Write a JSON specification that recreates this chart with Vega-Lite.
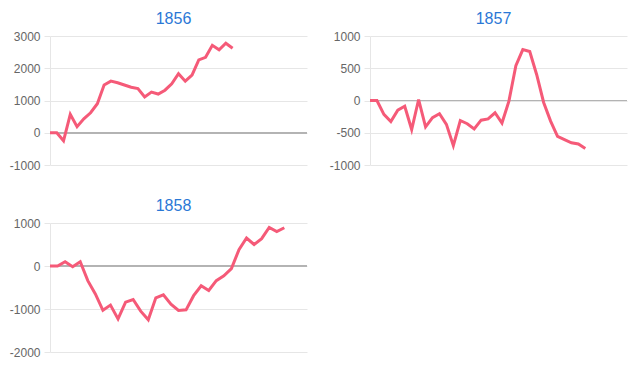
{
  "$schema": "https://vega.github.io/schema/vega-lite/v6.json",
  "padding": {"left": 8, "top": 11, "right": 5, "bottom": 5},
  "background": "#ffffff",
  "config": {
    "view": {"stroke": null},
    "font": "Liberation Sans",
    "title": {"fontSize": 16, "fontWeight": "normal", "color": "#2a78d6", "font": "Liberation Sans", "baseline": "alphabetic", "offset": 3, "anchor": "middle", "dx": -5},
    "axisY": {"labelColor": "#666666", "labelFontSize": 12, "labelFont": "Liberation Sans", "grid": true, "gridColor": "#e6e6e6", "tickColor": "#e6e6e6", "tickSize": 6, "labelPadding": 4, "domainColor": "#e6e6e6", "title": null, "minExtent": 42, "maxExtent": 42, "labelOverlap": false, "labelExpr": "'' + datum.value"},
    "line": {"color": "#f55a78", "strokeWidth": 3}
  },
  "datasets": {
    "d1856": [
      {"i": 0, "v": 0}, {"i": 1, "v": 0}, {"i": 2, "v": -250}, {"i": 3, "v": 570}, {"i": 4, "v": 190}, {"i": 5, "v": 430}, {"i": 6, "v": 620}, {"i": 7, "v": 900}, {"i": 8, "v": 1480}, {"i": 9, "v": 1600}, {"i": 10, "v": 1550}, {"i": 11, "v": 1480}, {"i": 12, "v": 1410}, {"i": 13, "v": 1370}, {"i": 14, "v": 1110}, {"i": 15, "v": 1260}, {"i": 16, "v": 1200}, {"i": 17, "v": 1320}, {"i": 18, "v": 1520}, {"i": 19, "v": 1830}, {"i": 20, "v": 1600}, {"i": 21, "v": 1790}, {"i": 22, "v": 2260}, {"i": 23, "v": 2340}, {"i": 24, "v": 2710}, {"i": 25, "v": 2570}, {"i": 26, "v": 2775}, {"i": 27, "v": 2620}
    ],
    "d1857": [
      {"i": 0, "v": 0}, {"i": 1, "v": 0}, {"i": 2, "v": -215}, {"i": 3, "v": -325}, {"i": 4, "v": -150}, {"i": 5, "v": -90}, {"i": 6, "v": -450}, {"i": 7, "v": 15}, {"i": 8, "v": -410}, {"i": 9, "v": -265}, {"i": 10, "v": -205}, {"i": 11, "v": -370}, {"i": 12, "v": -700}, {"i": 13, "v": -310}, {"i": 14, "v": -360}, {"i": 15, "v": -440}, {"i": 16, "v": -305}, {"i": 17, "v": -285}, {"i": 18, "v": -190}, {"i": 19, "v": -350}, {"i": 20, "v": -10}, {"i": 21, "v": 540}, {"i": 22, "v": 790}, {"i": 23, "v": 760}, {"i": 24, "v": 400}, {"i": 25, "v": -30}, {"i": 26, "v": -320}, {"i": 27, "v": -555}, {"i": 28, "v": -605}, {"i": 29, "v": -655}, {"i": 30, "v": -675}, {"i": 31, "v": -745}
    ],
    "d1858": [
      {"i": 0, "v": 0}, {"i": 1, "v": 0}, {"i": 2, "v": 100}, {"i": 3, "v": -15}, {"i": 4, "v": 100}, {"i": 5, "v": -340}, {"i": 6, "v": -650}, {"i": 7, "v": -1030}, {"i": 8, "v": -910}, {"i": 9, "v": -1230}, {"i": 10, "v": -840}, {"i": 11, "v": -780}, {"i": 12, "v": -1050}, {"i": 13, "v": -1250}, {"i": 14, "v": -740}, {"i": 15, "v": -670}, {"i": 16, "v": -890}, {"i": 17, "v": -1035}, {"i": 18, "v": -1020}, {"i": 19, "v": -690}, {"i": 20, "v": -460}, {"i": 21, "v": -570}, {"i": 22, "v": -340}, {"i": 23, "v": -230}, {"i": 24, "v": -60}, {"i": 25, "v": 380}, {"i": 26, "v": 650}, {"i": 27, "v": 500}, {"i": 28, "v": 635}, {"i": 29, "v": 895}, {"i": 30, "v": 800}, {"i": 31, "v": 890}
    ]
  },
  "vconcat": [
    {
      "hconcat": [
        {
          "title": "1856",
          "width": 257,
          "height": 129,
          "data": {"name": "d1856"},
          "layer": [
            {"mark": {"type": "rule", "color": "#b3b3b3", "strokeWidth": 1}, "encoding": {"y": {"datum": 0, "type": "quantitative", "scale": {"domain": [-1000, 3000], "nice": false}, "axis": {"values": [-1000, 0, 1000, 2000, 3000], "tickCount": 5}}}},
            {"mark": {"type": "line"}, "encoding": {
              "x": {"field": "i", "type": "quantitative", "scale": {"domain": [0, 38], "nice": false, "zero": false}, "axis": null},
              "y": {"field": "v", "type": "quantitative", "scale": {"domain": [-1000, 3000], "nice": false}, "axis": {"values": [-1000, 0, 1000, 2000, 3000], "tickCount": 5}}
            }}
          ]
        },
        {
          "title": "1857",
          "width": 257,
          "height": 129,
          "data": {"name": "d1857"},
          "layer": [
            {"mark": {"type": "rule", "color": "#b3b3b3", "strokeWidth": 1}, "encoding": {"y": {"datum": 0, "type": "quantitative", "scale": {"domain": [-1000, 1000], "nice": false}, "axis": {"values": [-1000, -500, 0, 500, 1000], "tickCount": 5}}}},
            {"mark": {"type": "line"}, "encoding": {
              "x": {"field": "i", "type": "quantitative", "scale": {"domain": [0, 37], "nice": false, "zero": false}, "axis": null},
              "y": {"field": "v", "type": "quantitative", "scale": {"domain": [-1000, 1000], "nice": false}, "axis": {"values": [-1000, -500, 0, 500, 1000], "tickCount": 5}}
            }}
          ]
        }
      ],
      "spacing": 20
    },
    {
      "title": "1858",
      "width": 257,
      "height": 129,
      "data": {"name": "d1858"},
      "layer": [
        {"mark": {"type": "rule", "color": "#b3b3b3", "strokeWidth": 1}, "encoding": {"y": {"datum": 0, "type": "quantitative", "scale": {"domain": [-2000, 1000], "nice": false}, "axis": {"values": [-2000, -1000, 0, 1000], "tickCount": 4}}}},
        {"mark": {"type": "line"}, "encoding": {
          "x": {"field": "i", "type": "quantitative", "scale": {"domain": [0, 34], "nice": false, "zero": false}, "axis": null},
          "y": {"field": "v", "type": "quantitative", "scale": {"domain": [-2000, 1000], "nice": false}, "axis": {"values": [-2000, -1000, 0, 1000], "tickCount": 4}}
        }}
      ]
    }
  ],
  "spacing": 27
}
